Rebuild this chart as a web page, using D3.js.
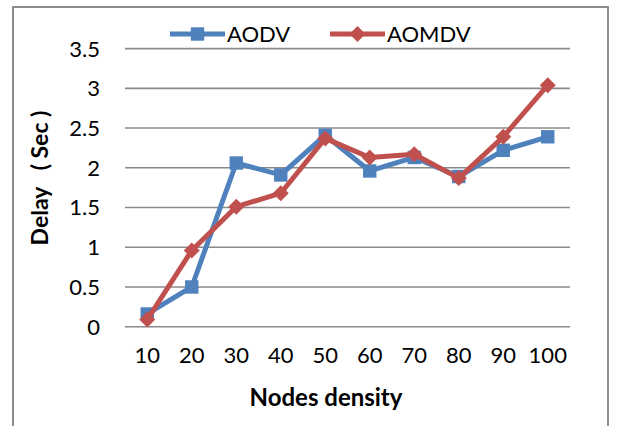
<!DOCTYPE html>
<html><head><meta charset="utf-8">
<script src="https://cdn.jsdelivr.net/npm/d3@7"></script>
<style>body{margin:0;background:#fff}svg{display:block}</style>
</head><body>
<script>
const categories = ["10","20","30","40","50","60","70","80","90","100"];
const aodv  = [0.16, 0.50, 2.06, 1.91, 2.41, 1.96, 2.13, 1.89, 2.22, 2.39];
const aomdv = [0.09, 0.96, 1.51, 1.68, 2.37, 2.13, 2.17, 1.87, 2.39, 3.04];
const yTicks = [0, 0.5, 1, 1.5, 2, 2.5, 3, 3.5];
const seriesNames = ["AODV", "AOMDV"];

const W = 618, H = 426;
const font = "Lato, 'Open Sans', sans-serif";
const svg = d3.select("body").append("svg").attr("width", W).attr("height", H);

svg.append("rect").attr("x", 13).attr("y", 7).attr("width", 595).attr("height", 430)
  .attr("fill", "none").attr("stroke", "#8c8c8c").attr("stroke-width", 2);

const x = d3.scaleBand().domain(categories).range([125, 570]);
const y = d3.scaleLinear().domain([0, 3.5]).range([326.7, 48.6]);

svg.append("g").selectAll("line").data(yTicks).join("line")
  .attr("x1", 125).attr("x2", 570)
  .attr("y1", d => y(d)).attr("y2", d => y(d))
  .attr("stroke", "#8a8a8a").attr("stroke-width", 1.6);

svg.append("g").selectAll("text").data(yTicks).join("text")
  .attr("x", 100).attr("y", d => y(d)).attr("dy", "0.36em")
  .attr("text-anchor", "end").attr("font-family", font).attr("font-size", 22)
  .attr("fill", "#000").text(d => d);

svg.append("g").selectAll("text").data(categories).join("text")
  .attr("x", d => x(d) + x.bandwidth() / 2).attr("y", 355).attr("dy", "0.36em")
  .attr("text-anchor", "middle").attr("font-family", font).attr("font-size", 22)
  .attr("fill", "#000").text(d => d);

svg.append("text").attr("x", 326).attr("y", 397).attr("dy", "0.36em")
  .attr("text-anchor", "middle").attr("font-family", font).attr("font-size", 24)
  .attr("font-weight", "bold").text("Nodes density");

svg.append("text").attr("transform", "translate(40,178) rotate(-90)").attr("dy", "0.36em")
  .attr("text-anchor", "middle").attr("font-family", font).attr("font-size", 23)
  .attr("font-weight", "bold")
  .text("Delay\u00A0\u00A0\u00A0(\u00A0Sec\u00A0)");

const colors = ["#4F81BD", "#C0504D"];
const line = d3.line().x((d, i) => x(categories[i]) + x.bandwidth() / 2).y(d => y(d));
const data = [aodv, aomdv];
const squareSym = d3.symbol(d3.symbolSquare, 180);
const diamondPath = "M0,-8L8,0L0,8L-8,0Z";

data.forEach((vals, si) => {
  const g = svg.append("g");
  g.append("path").datum(vals).attr("d", line).attr("fill", "none")
    .attr("stroke", colors[si]).attr("stroke-width", 5).attr("stroke-linejoin", "round");
  g.selectAll("path.m").data(vals).join("path").attr("class", "m")
    .attr("transform", (d, i) => `translate(${x(categories[i]) + x.bandwidth() / 2},${y(d)})`)
    .attr("d", si === 0 ? squareSym() : diamondPath).attr("fill", colors[si]);
});

// legend
const legX = [170, 330];
seriesNames.forEach((name, si) => {
  const g = svg.append("g").attr("transform", `translate(${legX[si]},34)`);
  g.append("line").attr("x1", 0).attr("x2", 55).attr("stroke", colors[si]).attr("stroke-width", 5);
  g.append("path").attr("transform", "translate(27.5,0)")
    .attr("d", si === 0 ? squareSym() : diamondPath)
    .attr("fill", colors[si]);
  g.append("text").attr("x", 57).attr("dy", "0.36em").attr("font-family", font)
    .attr("font-size", 22).attr("fill", "#000").text(name);
});
</script>
</body></html>
